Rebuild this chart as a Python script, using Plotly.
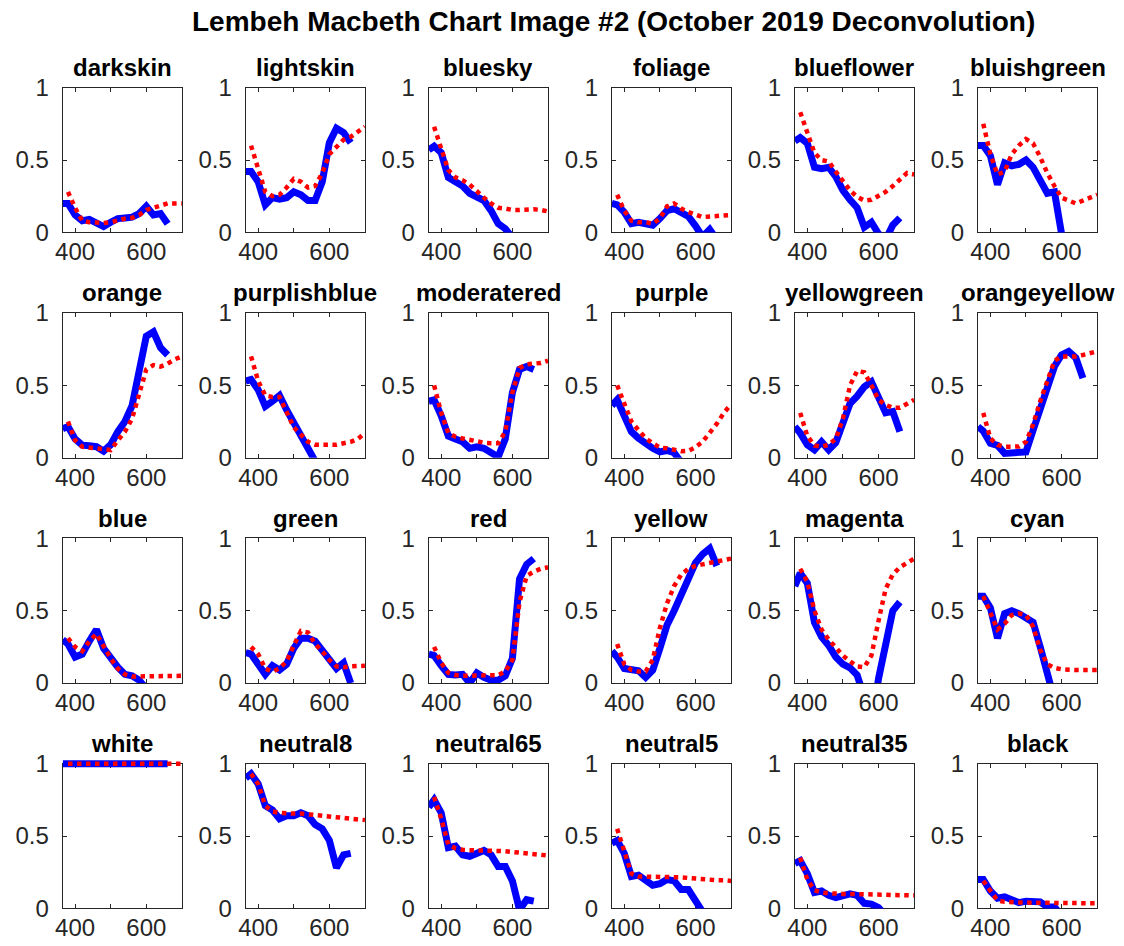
import plotly.graph_objects as go

# ---------------- data ----------------
wl_deconv = [365, 380, 400, 420, 440, 460, 480, 500, 520, 540, 560, 580, 600, 620, 640, 660]
wl_ref = [380, 400, 420, 440, 460, 480, 500, 520, 540, 560, 580, 600, 620, 640, 660, 680, 700]

patch_names = ["darkskin", "lightskin", "bluesky", "foliage", "blueflower", "bluishgreen",
               "orange", "purplishblue", "moderatered", "purple", "yellowgreen", "orangeyellow",
               "blue", "green", "red", "yellow", "magenta", "cyan",
               "white", "neutral8", "neutral65", "neutral5", "neutral35", "black"]

x_tick_vals = [400, 500, 600]
x_tick_text = ["400", "", "600"]
y_tick_vals = [0, 0.5, 1]
y_tick_text = ["0", "0.5", "1"]

darkskin_deconv = [0.20, 0.20, 0.12, 0.08, 0.09, 0.07, 0.04, 0.07, 0.095, 0.10, 0.105, 0.13, 0.18, 0.12, 0.13, 0.06]
darkskin_ref = [0.28, 0.17, 0.08, 0.07, 0.068, 0.065, 0.07, 0.085, 0.095, 0.10, 0.12, 0.155, 0.17, 0.19, 0.20, 0.20, 0.20]

lightskin_deconv = [0.42, 0.42, 0.35, 0.19, 0.24, 0.23, 0.24, 0.28, 0.26, 0.22, 0.22, 0.35, 0.62, 0.72, 0.69, 0.62]
lightskin_ref = [0.60, 0.45, 0.28, 0.25, 0.26, 0.31, 0.37, 0.35, 0.31, 0.32, 0.41, 0.54, 0.59, 0.64, 0.66, 0.70, 0.73]

bluesky_deconv = [0.57, 0.595, 0.55, 0.38, 0.35, 0.32, 0.27, 0.24, 0.22, 0.15, 0.06, 0.025, -0.05, -0.10, -0.10, -0.10]
bluesky_ref = [0.73, 0.58, 0.43, 0.38, 0.36, 0.33, 0.28, 0.24, 0.20, 0.17, 0.165, 0.155, 0.155, 0.16, 0.16, 0.155, 0.145]

foliage_deconv = [0.20, 0.19, 0.14, 0.06, 0.07, 0.06, 0.05, 0.095, 0.15, 0.163, 0.14, 0.11, 0.045, -0.03, 0.02, -0.05]
foliage_ref = [0.26, 0.15, 0.08, 0.07, 0.07, 0.06, 0.095, 0.18, 0.20, 0.165, 0.14, 0.12, 0.105, 0.11, 0.115, 0.12, 0.12]

blueflower_deconv = [0.63, 0.655, 0.615, 0.45, 0.44, 0.45, 0.385, 0.29, 0.225, 0.17, 0.035, 0.07, -0.01, -0.05, 0.05, 0.10]
blueflower_ref = [0.83, 0.70, 0.55, 0.50, 0.49, 0.42, 0.355, 0.29, 0.245, 0.22, 0.225, 0.25, 0.28, 0.32, 0.37, 0.41, 0.40]

bluishgreen_deconv = [0.60, 0.60, 0.53, 0.33, 0.48, 0.46, 0.47, 0.50, 0.45, 0.35, 0.27, 0.28, -0.03, -0.30, -0.30, -0.30]
bluishgreen_ref = [0.75, 0.54, 0.40, 0.42, 0.54, 0.60, 0.645, 0.615, 0.52, 0.41, 0.32, 0.24, 0.22, 0.20, 0.22, 0.24, 0.26]

orange_deconv = [0.20, 0.215, 0.13, 0.087, 0.083, 0.076, 0.045, 0.09, 0.18, 0.25, 0.36, 0.62, 0.84, 0.87, 0.76, 0.71]
orange_ref = [0.25, 0.12, 0.076, 0.07, 0.065, 0.053, 0.053, 0.12, 0.18, 0.27, 0.43, 0.61, 0.64, 0.63, 0.65, 0.68, 0.70]

purplishblue_deconv = [0.53, 0.54, 0.47, 0.355, 0.39, 0.43, 0.33, 0.25, 0.165, 0.08, -0.01, -0.10, -0.20, -0.20, -0.20, -0.20]
purplishblue_ref = [0.70, 0.53, 0.43, 0.42, 0.42, 0.32, 0.21, 0.16, 0.11, 0.09, 0.09, 0.09, 0.09, 0.10, 0.11, 0.13, 0.17]

moderatered_deconv = [0.39, 0.40, 0.29, 0.15, 0.13, 0.11, 0.065, 0.075, 0.065, 0.04, 0.005, 0.13, 0.45, 0.61, 0.63, 0.61]
moderatered_ref = [0.50, 0.31, 0.17, 0.145, 0.133, 0.123, 0.11, 0.104, 0.10, 0.10, 0.18, 0.45, 0.62, 0.645, 0.65, 0.655, 0.67]

purple_deconv = [0.36, 0.40, 0.29, 0.18, 0.135, 0.095, 0.065, 0.04, 0.05, 0.035, -0.03, -0.10, -0.10, -0.10, -0.10, -0.10]
purple_ref = [0.50, 0.37, 0.25, 0.19, 0.135, 0.10, 0.07, 0.065, 0.055, 0.045, 0.048, 0.072, 0.11, 0.17, 0.235, 0.31, 0.37]

yellowgreen_deconv = [0.215, 0.17, 0.09, 0.055, 0.11, 0.055, 0.105, 0.225, 0.375, 0.425, 0.49, 0.525, 0.42, 0.31, 0.32, 0.18]
yellowgreen_ref = [0.31, 0.15, 0.085, 0.076, 0.09, 0.13, 0.27, 0.50, 0.60, 0.59, 0.50, 0.40, 0.365, 0.345, 0.345, 0.37, 0.40]

orangeyellow_deconv = [0.215, 0.185, 0.10, 0.085, 0.03, 0.03, 0.03, 0.04, 0.19, 0.34, 0.46, 0.63, 0.71, 0.735, 0.69, 0.55]
orangeyellow_ref = [0.31, 0.134, 0.088, 0.076, 0.076, 0.078, 0.11, 0.23, 0.39, 0.53, 0.67, 0.70, 0.70, 0.70, 0.71, 0.72, 0.735]

blue_deconv = [0.30, 0.27, 0.18, 0.20, 0.29, 0.37, 0.24, 0.17, 0.11, 0.06, 0.05, 0.02, -0.05, -0.10, -0.10, -0.10]
blue_ref = [0.31, 0.25, 0.22, 0.29, 0.34, 0.25, 0.17, 0.10, 0.06, 0.045, 0.045, 0.045, 0.045, 0.05, 0.05, 0.05, 0.05]

green_deconv = [0.21, 0.20, 0.13, 0.06, 0.12, 0.09, 0.13, 0.24, 0.31, 0.31, 0.29, 0.22, 0.17, 0.10, 0.14, 0.0]
green_ref = [0.25, 0.20, 0.10, 0.08, 0.10, 0.15, 0.26, 0.36, 0.35, 0.27, 0.22, 0.16, 0.115, 0.11, 0.115, 0.12, 0.12]

red_deconv = [0.20, 0.19, 0.12, 0.06, 0.055, 0.06, 0.0, 0.07, 0.04, 0.02, 0.02, 0.05, 0.17, 0.72, 0.82, 0.86]
red_ref = [0.25, 0.14, 0.07, 0.055, 0.05, 0.05, 0.05, 0.05, 0.05, 0.055, 0.08, 0.16, 0.56, 0.74, 0.77, 0.79, 0.80]

yellow_deconv = [0.22, 0.18, 0.10, 0.09, 0.085, 0.04, 0.09, 0.24, 0.40, 0.50, 0.60, 0.72, 0.83, 0.89, 0.93, 0.81]
yellow_ref = [0.27, 0.13, 0.09, 0.08, 0.08, 0.16, 0.38, 0.55, 0.67, 0.75, 0.79, 0.81, 0.82, 0.83, 0.84, 0.85, 0.86]

magenta_deconv = [0.67, 0.76, 0.69, 0.42, 0.32, 0.26, 0.18, 0.13, 0.105, 0.055, -0.10, -0.30, 0.03, 0.28, 0.50, 0.56]
magenta_ref = [0.79, 0.70, 0.50, 0.37, 0.30, 0.24, 0.19, 0.15, 0.115, 0.11, 0.19, 0.43, 0.65, 0.75, 0.80, 0.83, 0.86]

cyan_deconv = [0.60, 0.60, 0.52, 0.31, 0.48, 0.50, 0.48, 0.45, 0.42, 0.25, 0.0, -0.20, -0.30, -0.30, -0.30, -0.30]
cyan_ref = [0.60, 0.49, 0.37, 0.41, 0.47, 0.48, 0.47, 0.39, 0.23, 0.13, 0.105, 0.095, 0.09, 0.09, 0.09, 0.09, 0.09]

white_deconv = [1.0, 1.0, 1.0, 1.0, 1.0, 1.0, 1.0, 1.0, 1.0, 1.0, 1.0, 1.0, 1.0, 1.0, 1.0, 1.0]
white_ref = [1.0, 1.0, 1.0, 1.0, 1.0, 1.0, 1.0, 1.0, 1.0, 1.0, 1.0, 1.0, 1.0, 1.0, 1.0, 1.0, 1.0]

neutral8_deconv = [0.90, 0.93, 0.86, 0.71, 0.68, 0.62, 0.64, 0.64, 0.66, 0.64, 0.58, 0.55, 0.47, 0.28, 0.37, 0.38]
neutral8_ref = [0.93, 0.86, 0.71, 0.67, 0.66, 0.655, 0.655, 0.655, 0.65, 0.645, 0.64, 0.64, 0.635, 0.63, 0.625, 0.615, 0.61]

neutral65_deconv = [0.70, 0.75, 0.66, 0.42, 0.43, 0.37, 0.36, 0.38, 0.40, 0.37, 0.29, 0.29, 0.19, -0.01, 0.06, 0.05]
neutral65_ref = [0.77, 0.62, 0.44, 0.415, 0.405, 0.40, 0.40, 0.40, 0.40, 0.398, 0.395, 0.39, 0.385, 0.38, 0.375, 0.37, 0.365]

neutral5_deconv = [0.45, 0.47, 0.38, 0.22, 0.23, 0.19, 0.16, 0.17, 0.20, 0.19, 0.13, 0.13, 0.05, -0.05, -0.10, -0.10]
neutral5_ref = [0.55, 0.40, 0.24, 0.22, 0.22, 0.215, 0.215, 0.215, 0.215, 0.215, 0.21, 0.205, 0.205, 0.20, 0.195, 0.195, 0.19]

neutral35_deconv = [0.31, 0.33, 0.24, 0.11, 0.12, 0.09, 0.075, 0.085, 0.10, 0.09, 0.035, 0.03, 0.005, -0.05, -0.10, -0.10]
neutral35_ref = [0.35, 0.20, 0.125, 0.11, 0.105, 0.10, 0.10, 0.10, 0.10, 0.10, 0.10, 0.096, 0.094, 0.092, 0.092, 0.09, 0.09]

black_deconv = [0.20, 0.20, 0.12, 0.07, 0.08, 0.06, 0.04, 0.05, 0.05, 0.045, 0.01, 0.01, -0.05, -0.10, -0.10, -0.10]
black_ref = [0.19, 0.12, 0.055, 0.045, 0.04, 0.04, 0.04, 0.04, 0.04, 0.04, 0.04, 0.04, 0.038, 0.037, 0.036, 0.035, 0.035]

deconv_series = [darkskin_deconv, lightskin_deconv, bluesky_deconv, foliage_deconv, blueflower_deconv,
                 bluishgreen_deconv, orange_deconv, purplishblue_deconv, moderatered_deconv, purple_deconv,
                 yellowgreen_deconv, orangeyellow_deconv, blue_deconv, green_deconv, red_deconv,
                 yellow_deconv, magenta_deconv, cyan_deconv, white_deconv, neutral8_deconv,
                 neutral65_deconv, neutral5_deconv, neutral35_deconv, black_deconv]
ref_series = [darkskin_ref, lightskin_ref, bluesky_ref, foliage_ref, blueflower_ref,
              bluishgreen_ref, orange_ref, purplishblue_ref, moderatered_ref, purple_ref,
              yellowgreen_ref, orangeyellow_ref, blue_ref, green_ref, red_ref,
              yellow_ref, magenta_ref, cyan_ref, white_ref, neutral8_ref,
              neutral65_ref, neutral5_ref, neutral35_ref, black_ref]

main_title = "Lembeh Macbeth Chart Image #2 (October 2019 Deconvolution)"

# ---------------- layout geometry ----------------
W, H = 1124, 946
# target positions (pixels in the final picture)
BOX_L0, BOX_DX, BOX_W = 56.0, 184.2, 120.0
BOX_T0, BOX_DY, BOX_H = 86.7, 225.0, 144.5
TITLE_GAP = 20.0
MAIN_TITLE_Y = 21.0
# vertical calibration of the page capture (observed = OFF + SCALE * layout)
CAP_OFF, CAP_SCALE = 13.15, 0.970


def ypaper(y_target):
    y_layout = (y_target - CAP_OFF) / CAP_SCALE
    return 1 - y_layout / H


PAD = 5.0          # extra room above the box so lines at y=1 are not cut
X_RANGE = [365, 700]
AXIS_COLOR = "#262626"
FONT = "Liberation Sans, Arial, Helvetica, sans-serif"

fig = go.Figure()
layout_axes = {}
annotations = []
n = len(patch_names)

for i in range(n):
    r, c = divmod(i, 6)
    left = BOX_L0 + c * BOX_DX
    top = BOX_T0 + r * BOX_DY
    x0, x1 = left / W, (left + BOX_W) / W
    y1 = ypaper(top)
    y0 = ypaper(top + BOX_H)
    box_h_layout = (y1 - y0) * H
    k = i + 1
    kd = n + i + 1
    s = "" if k == 1 else str(k)

    layout_axes["xaxis" + s] = dict(
        domain=[x0, x1], anchor="y" + s, range=X_RANGE,
        tickmode="array", tickvals=x_tick_vals, ticktext=x_tick_text,
        ticks="inside", ticklen=4, tickwidth=1, tickcolor=AXIS_COLOR,
        showline=True, linecolor=AXIS_COLOR, linewidth=1, mirror="ticks",
        showgrid=False, zeroline=False, ticklabelstandoff=-2, fixedrange=True,
        tickfont=dict(family=FONT, size=24, color=AXIS_COLOR),
    )
    layout_axes["yaxis" + s] = dict(
        domain=[y0, y1], anchor="x" + s, range=[0, 1],
        tickmode="array", tickvals=y_tick_vals, ticktext=y_tick_text,
        ticks="inside", ticklen=4, tickwidth=1, tickcolor=AXIS_COLOR,
        showline=True, linecolor=AXIS_COLOR, linewidth=1, mirror="ticks",
        showgrid=False, zeroline=False, ticklabelstandoff=8, fixedrange=True,
        tickfont=dict(family=FONT, size=24, color=AXIS_COLOR),
    )
    # data axis: same scale as the box axis, a few pixels taller at the top
    layout_axes["yaxis" + str(kd)] = dict(
        domain=[y0, y1 + PAD / H], anchor="x" + s,
        range=[0, 1 + PAD / box_h_layout], visible=False,
        showgrid=False, zeroline=False, fixedrange=True,
    )

    # empty trace registering the framed subplot (box, ticks, labels)
    fig.add_trace(go.Scatter(
        x=[None], y=[None], mode="lines", xaxis="x" + s, yaxis="y" + s,
        showlegend=False, hoverinfo="skip"))
    fig.add_trace(go.Scatter(
        x=wl_deconv, y=deconv_series[i], mode="lines",
        line=dict(color="#0000ff", width=7),
        xaxis="x" + s, yaxis="y" + str(kd), showlegend=False, hoverinfo="skip"))
    fig.add_trace(go.Scatter(
        x=wl_ref, y=ref_series[i], mode="lines",
        line=dict(color="#ff0000", width=4.5, dash="dot"),
        xaxis="x" + s, yaxis="y" + str(kd), showlegend=False, hoverinfo="skip"))

    annotations.append(dict(
        text="<b>" + patch_names[i] + "</b>", xref="paper", yref="paper",
        x=(left + BOX_W / 2) / W, y=ypaper(top - TITLE_GAP),
        xanchor="center", yanchor="middle", showarrow=False,
        font=dict(family=FONT, size=24, color="#000000")))

annotations.append(dict(
    text="<b>" + main_title + "</b>", xref="paper", yref="paper",
    x=610 / W, y=ypaper(MAIN_TITLE_Y), xanchor="center", yanchor="middle", showarrow=False,
    font=dict(family=FONT, size=28, color="#000000")))

fig.update_layout(
    width=W, height=H, margin=dict(l=0, r=0, t=0, b=0),
    paper_bgcolor="#ffffff", plot_bgcolor="rgba(0,0,0,0)",
    showlegend=False, annotations=annotations, **layout_axes)

fig.write_html("out.html", config={"displayModeBar": False})
